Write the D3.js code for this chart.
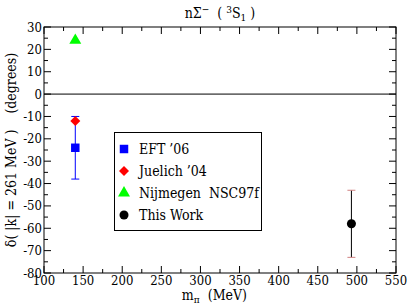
<!DOCTYPE html>
<html>
<head>
<meta charset="utf-8">
<script src="https://cdn.jsdelivr.net/npm/d3@7"></script>
<style>
  body { margin: 0; background: #fff; }
</style>
</head>
<body>
<svg id="chart"></svg>
<script>
const width = 407;
const height = 305;

// data
const seriesNames = ["EFT \u201906", "Juelich \u201904", "Nijmegen  NSC97f", "This Work"];
const seriesX = [140, 140, 140, 493];
const seriesY = [-24, -12, 24, -58];
const errLow = [-38, null, null, -73];
const errHigh = [-10, null, null, -43];
const seriesColor = ["#0000ff", "#ff0000", "#00ff00", "#000000"];
const seriesSymbol = ["square", "diamond", "triangle", "circle"];

const xTicks = [100, 150, 200, 250, 300, 350, 400, 450, 500, 550];
const yTicks = [30, 20, 10, 0, -10, -20, -30, -40, -50, -60, -70, -80];

const margin = { left: 44, right: 11, top: 27, bottom: 32 };
const serif = "'DejaVu Serif Condensed', 'DejaVu Serif'";

const svg = d3.select("#chart")
  .attr("width", width)
  .attr("height", height)
  .attr("font-family", serif)
  .style("font-family", serif)
  .style("font-stretch", "condensed");

const x = d3.scaleLinear().domain([100, 550]).range([margin.left, width - margin.right]);
const y = d3.scaleLinear().domain([-80, 30]).range([height - margin.bottom, margin.top]);

const x0 = x.range()[0], x1 = x.range()[1];
const y0 = y.range()[0], y1 = y.range()[1];

// zero line
svg.append("line")
  .attr("x1", x0).attr("x2", x1)
  .attr("y1", y(0)).attr("y2", y(0))
  .attr("stroke", "#000").attr("stroke-width", 1);

// ticks (inside, all four sides)
const xMinor = d3.range(125, 550, 50);
const yMinor = d3.range(-75, 30, 10);
const tickG = svg.append("g").attr("stroke", "#000").attr("stroke-width", 1);

xTicks.forEach(function (v) {
  tickG.append("line").attr("x1", x(v)).attr("x2", x(v)).attr("y1", y0).attr("y2", y0 - 7);
  tickG.append("line").attr("x1", x(v)).attr("x2", x(v)).attr("y1", y1).attr("y2", y1 + 7);
});
xMinor.forEach(function (v) {
  tickG.append("line").attr("x1", x(v)).attr("x2", x(v)).attr("y1", y0).attr("y2", y0 - 4);
  tickG.append("line").attr("x1", x(v)).attr("x2", x(v)).attr("y1", y1).attr("y2", y1 + 4);
});
yTicks.forEach(function (v) {
  tickG.append("line").attr("x1", x0).attr("x2", x0 + 7).attr("y1", y(v)).attr("y2", y(v));
  tickG.append("line").attr("x1", x1).attr("x2", x1 - 7).attr("y1", y(v)).attr("y2", y(v));
});
yMinor.forEach(function (v) {
  tickG.append("line").attr("x1", x0).attr("x2", x0 + 4).attr("y1", y(v)).attr("y2", y(v));
  tickG.append("line").attr("x1", x1).attr("x2", x1 - 4).attr("y1", y(v)).attr("y2", y(v));
});

// frame
svg.append("rect")
  .attr("x", x0).attr("y", y1)
  .attr("width", x1 - x0).attr("height", y0 - y1)
  .attr("fill", "none").attr("stroke", "#000").attr("stroke-width", 1);

// tick labels
svg.append("g").selectAll("text")
  .data(xTicks).enter().append("text")
  .attr("x", function (d) { return x(d); })
  .attr("y", y0 + 12)
  .attr("text-anchor", "middle")
  .attr("font-size", 13)
  .text(function (d) { return d; });

svg.append("g").selectAll("text")
  .data(yTicks).enter().append("text")
  .attr("x", x0 - 2)
  .attr("y", function (d) { return y(d) + 4.5; })
  .attr("text-anchor", "end")
  .attr("font-size", 13)
  .text(function (d) { return d; });

// error bars
const errG = svg.append("g");
seriesY.forEach(function (v, i) {
  if (errLow[i] === null) return;
  const cx = x(seriesX[i]);
  const capColor = i === 3 ? "#d08080" : seriesColor[i];
  errG.append("line")
    .attr("x1", cx).attr("x2", cx)
    .attr("y1", y(errLow[i])).attr("y2", y(errHigh[i]))
    .attr("stroke", seriesColor[i]).attr("stroke-width", 1);
  [errLow[i], errHigh[i]].forEach(function (e) {
    errG.append("line")
      .attr("x1", cx - 4).attr("x2", cx + 4)
      .attr("y1", y(e)).attr("y2", y(e))
      .attr("stroke", capColor).attr("stroke-width", 1);
  });
});

// symbols
function symbolPath(name) {
  if (name === "square") return d3.symbol(d3.symbolSquare, 72)();
  if (name === "triangle") return d3.symbol(d3.symbolTriangle, 62)();
  if (name === "circle") return d3.symbol(d3.symbolCircle, 64)();
  return d3.symbol(d3.symbolSquare, 50)();
}
function symbolRotate(name) {
  return name === "diamond" ? " rotate(45)" : "";
}

svg.append("g").selectAll("path")
  .data(seriesY).enter().append("path")
  .attr("transform", function (d, i) {
    return "translate(" + x(seriesX[i]) + "," + y(d) + ")" + symbolRotate(seriesSymbol[i]);
  })
  .attr("d", function (d, i) { return symbolPath(seriesSymbol[i]); })
  .attr("fill", function (d, i) { return seriesColor[i]; });

// legend
const legend = svg.append("g");
legend.append("rect")
  .attr("x", 114.5).attr("y", 132.5)
  .attr("width", 147).attr("height", 98)
  .attr("fill", "#fff").attr("stroke", "#000").attr("stroke-width", 1);

seriesNames.forEach(function (name, i) {
  const ly = 149 + i * 22;
  legend.append("path")
    .attr("transform", "translate(124," + ly + ")" + symbolRotate(seriesSymbol[i]))
    .attr("d", symbolPath(seriesSymbol[i]))
    .attr("fill", seriesColor[i]);
  legend.append("text")
    .attr("x", 139).attr("y", ly + 5)
    .attr("font-size", 14)
    .style("white-space", "pre")
    .text(name);
});

// title
const title = svg.append("text")
  .attr("x", 220).attr("y", 18)
  .attr("text-anchor", "middle")
  .attr("font-size", 14)
  .style("white-space", "pre");
title.append("tspan").text("n\u03a3");
title.append("tspan").attr("dy", -5).attr("font-size", 10).text("\u2212");
title.append("tspan").attr("dy", 5).text("  ( ");
title.append("tspan").attr("dy", -5).attr("font-size", 10).text("3");
title.append("tspan").attr("dy", 5).text("S");
title.append("tspan").attr("dy", 3).attr("font-size", 10).text("1");
title.append("tspan").attr("dy", -3).text(" )");

// y label
svg.append("text")
  .attr("transform", "translate(16," + ((y0 + y1) / 2) + ") rotate(-90)")
  .attr("text-anchor", "middle")
  .attr("font-size", 14)
  .style("white-space", "pre")
  .text("\u03b4( |k| = 261 MeV )    (degrees)");

// x label
const xl = svg.append("text")
  .attr("x", x(300) + 14).attr("y", 300)
  .attr("text-anchor", "middle")
  .attr("font-size", 14)
  .style("white-space", "pre");
xl.append("tspan").text("m");
xl.append("tspan").attr("dy", 3).attr("font-size", 10).text("\u03c0");
xl.append("tspan").attr("dy", -3).text("  (MeV)");
</script>
</body>
</html>
